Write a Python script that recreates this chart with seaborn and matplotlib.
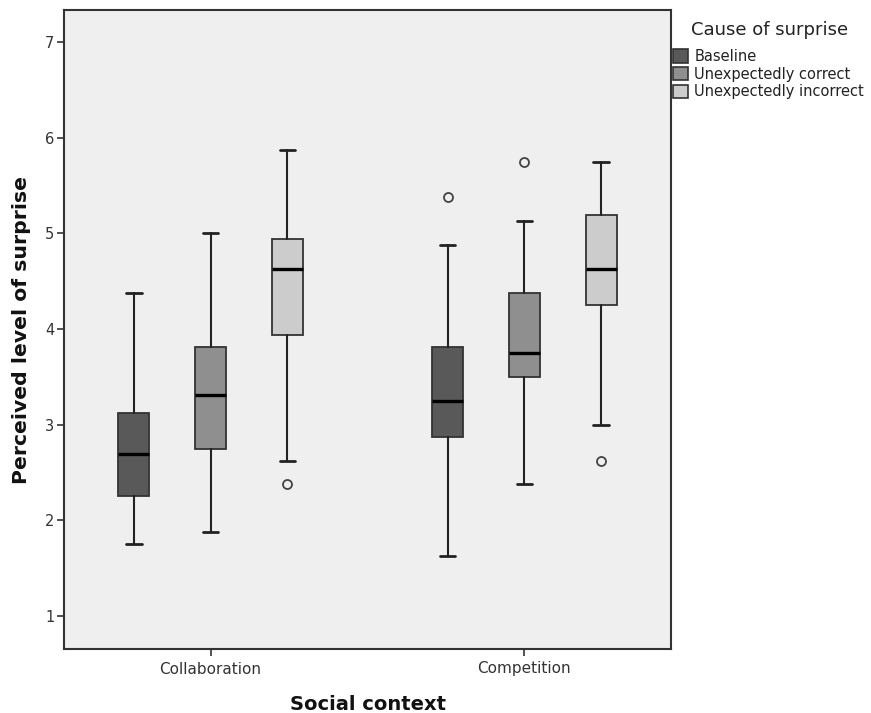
import matplotlib
matplotlib.use("Agg")
import matplotlib.pyplot as plt
from matplotlib.patches import Patch
import seaborn as sns

# ---- data ----
contexts = ["Collaboration", "Competition"]
causes = ["Baseline", "Unexpectedly correct", "Unexpectedly incorrect"]
colors = ["#595959", "#8f8f8f", "#cccccc"]
legend_title = "Cause of surprise"

# per context, per cause: [whisker_low, q1, median, q3, whisker_high]
collab_stats = [
    [1.75, 2.25, 2.69, 3.125, 4.375],
    [1.875, 2.75, 3.3125, 3.8125, 5.0],
    [2.625, 3.9375, 4.625, 4.9375, 5.875],
]
compet_stats = [
    [1.625, 2.875, 3.25, 3.8125, 4.875],
    [2.375, 3.5, 3.75, 4.375, 5.125],
    [3.0, 4.25, 4.625, 5.1875, 5.75],
]
collab_outliers = [[], [], [2.375]]
compet_outliers = [[5.375], [5.75], [2.625]]
y_ticks = [1, 2, 3, 4, 5, 6, 7]

sns.set_theme(style="white")
plt.rcParams["font.family"] = ["DejaVu Sans"]

fig = plt.figure(figsize=(8.71, 7.13), dpi=100)
ax = fig.add_axes([64/871, 1-649/713, (671-64)/871, (649-10)/713])
ax.set_facecolor("#efefef")

offsets = [-0.245, 0.0, 0.245]
for gi, (stats, outs) in enumerate([(collab_stats, collab_outliers),
                                     (compet_stats, compet_outliers)]):
    for ci in range(3):
        lo, q1, med, q3, hi = stats[ci]
        d = dict(whislo=lo, q1=q1, med=med, q3=q3, whishi=hi,
                 fliers=outs[ci], label=causes[ci])
        ax.bxp([d], positions=[gi + offsets[ci]], widths=[0.1],
               showfliers=True, patch_artist=True, manage_ticks=False,
               capwidths=[0.05],
               boxprops=dict(facecolor=colors[ci], edgecolor="#333333", linewidth=1.3),
               medianprops=dict(color="black", linewidth=2.4, solid_capstyle="butt"),
               whiskerprops=dict(color="#222222", linewidth=1.5),
               capprops=dict(color="#222222", linewidth=2.0),
               flierprops=dict(marker="o", markersize=6.5, markerfacecolor="none",
                               markeredgecolor="#444444", markeredgewidth=1.3))

ax.set_xlim(-0.467, 1.467)
ax.set_ylim(0.655, 7.334)
ax.set_xticks([0, 1])
ax.set_xticklabels(contexts)
ax.set_yticks(y_ticks)
ax.tick_params(axis="both", which="major", direction="out", length=5, width=1.2,
               color="#333333", labelsize=10.5, labelcolor="#333333",
               bottom=True, left=True, top=False, right=False, pad=2)
ax.tick_params(axis="x", labelsize=11, pad=4)
for s in ax.spines.values():
    s.set_color("#333333")
    s.set_linewidth(1.5)
    s.set_visible(True)

ax.set_xlabel("Social context", fontsize=14, fontweight="bold", color="#111111", labelpad=13)
ax.set_ylabel("Perceived level of surprise", fontsize=14.7, fontweight="bold", color="#111111", labelpad=10)

fig.text(691/871, 1-30/713, legend_title, ha="left", va="center", fontsize=13, color="#222222")
handles = [Patch(facecolor=c, edgecolor="#333333", linewidth=1.2) for c in colors]
leg = fig.legend(handles, causes, loc="upper left",
                 bbox_to_anchor=(673/871, 1-49/713), frameon=False,
                 fontsize=10.5, labelcolor="#222222",
                 handlelength=1.0, handleheight=1.0, handletextpad=0.45,
                 labelspacing=0.18, borderpad=0.0, borderaxespad=0.0)

fig.savefig("out.png", dpi=100)
